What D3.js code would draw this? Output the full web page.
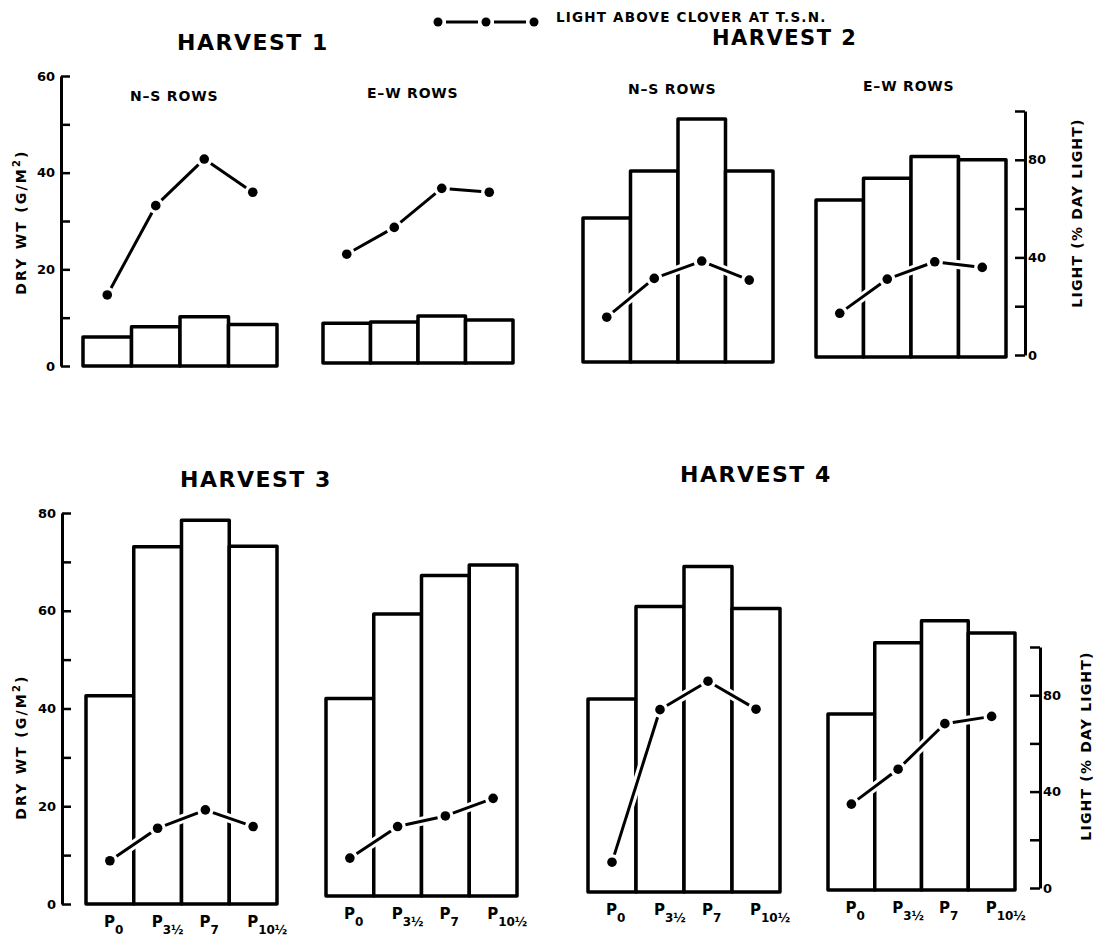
<!DOCTYPE html>
<html>
<head>
<meta charset="utf-8">
<script src="https://cdn.jsdelivr.net/npm/d3@7"></script>
<style>
  body { margin: 0; background: #fff; }
  svg { display: block; }
  text { font-family: "DejaVu Sans", sans-serif; font-weight: bold; fill: #000; }
</style>
</head>
<body>
<svg id="chart" width="1105" height="938"></svg>
<script>
// Spacing treatments (P followed by subscript)
const treatmentSubs = ["0", "3\u00BD", "7", "10\u00BD"];

// Grass dry weight (g/m2) per treatment
const dryH1NS = [6.0, 8.1, 10.2, 8.6];
const dryH1EW = [8.2, 8.5, 9.7, 8.9];
const dryH2NS = [29.8, 39.5, 50.3, 39.5];
const dryH2EW = [32.5, 37.0, 41.5, 40.8];
const dryH3NS = [42.6, 73.1, 78.5, 73.2];
const dryH3EW = [40.4, 57.7, 65.6, 67.7];
const dryH4NS = [39.5, 58.4, 66.6, 58.0];
const dryH4EW = [36.0, 50.6, 55.1, 52.6];

// Light above clover at T.S.N. (% day light)
const lightH1NS = [24.6, 61.2, 80.3, 66.7];
const lightH1EW = [41.3, 52.3, 68.3, 66.7];
const lightH2NS = [15.5, 31.4, 38.5, 30.7];
const lightH2EW = [17.1, 31.1, 38.2, 35.9];
const lightH3NS = [11.3, 24.8, 32.4, 25.5];
const lightH3EW = [12.4, 25.5, 29.9, 37.2];
const lightH4NS = [10.7, 74.0, 85.8, 74.2];
const lightH4EW = [34.8, 49.3, 68.2, 71.2];

// Axis ticks
const dryTicksTop = [0, 10, 20, 30, 40, 50, 60];
const dryLabelsTop = [0, 20, 40, 60];
const dryTicksBottom = [0, 10, 20, 30, 40, 50, 60, 70, 80];
const dryLabelsBottom = [0, 20, 40, 60, 80];
const lightTicks = [0, 20, 40, 60, 80, 100];
const lightLabels = [0, 40, 80];

const titles = ["HARVEST  1", "HARVEST  2", "HARVEST  3", "HARVEST  4"];
const rowLabels = ["N\u2013S  ROWS", "E\u2013W  ROWS"];
const legendLabel = "LIGHT ABOVE CLOVER AT  T.S.N.";

const svg = d3.select("#chart");

// Row geometry: dry-weight axis and light axis for each row of panels
const rows = [
  { dryMax: 60, dryPx: 290, dryAxisX: 61, dryZero: 366, dryTicks: dryTicksTop, dryLabels: dryLabelsTop,
    lightZero: 355, lightPx: 244, lightAxisX: 1025, dryTitleY: 222, lightTitleX: 1078, lightTitleY: 213 },
  { dryMax: 80, dryPx: 391, dryAxisX: 62, dryZero: 904, dryTicks: dryTicksBottom, dryLabels: dryLabelsBottom,
    lightZero: 888, lightPx: 241, lightAxisX: 1040, dryTitleY: 747, lightTitleX: 1087, lightTitleY: 746 }
];

const panels = [
  { dry: dryH1NS, light: lightH1NS, x0: 83,  x1: 277,  base: 366, row: 0 },
  { dry: dryH1EW, light: lightH1EW, x0: 323, x1: 513,  base: 363, row: 0 },
  { dry: dryH2NS, light: lightH2NS, x0: 583, x1: 773,  base: 362, row: 0 },
  { dry: dryH2EW, light: lightH2EW, x0: 816, x1: 1006, base: 357, row: 0 },
  { dry: dryH3NS, light: lightH3NS, x0: 86,  x1: 277,  base: 904, row: 1 },
  { dry: dryH3EW, light: lightH3EW, x0: 326, x1: 517,  base: 896, row: 1 },
  { dry: dryH4NS, light: lightH4NS, x0: 588, x1: 780,  base: 892, row: 1 },
  { dry: dryH4EW, light: lightH4EW, x0: 828, x1: 1015, base: 890, row: 1 }
];

// Light scales shared by each row
const lightScales = rows.map(r => d3.scaleLinear().domain([0, 100]).range([r.lightZero, r.lightZero - r.lightPx]));

panels.forEach(p => {
  const r = rows[p.row];
  const x = d3.scaleBand().domain(d3.range(4)).range([p.x0, p.x1]).padding(0);
  const y = d3.scaleLinear().domain([0, r.dryMax]).range([p.base, p.base - r.dryPx]);
  const yl = lightScales[p.row];
  const g = svg.append("g");

  // Bars
  g.selectAll("rect").data(p.dry).join("rect")
    .attr("x", (d, i) => x(i))
    .attr("y", d => y(d))
    .attr("width", x.bandwidth())
    .attr("height", d => y(0) - y(d))
    .attr("fill", "#fff")
    .attr("stroke", "#000")
    .attr("stroke-width", 3.5)
    .attr("stroke-linejoin", "round");

  // Light line: separate segments stopping short of the dots, with a white halo
  const pts = p.light.map((v, i) => [x(i) + x.bandwidth() / 2, yl(v)]);
  const segs = d3.pairs(pts).map(([a, b]) => {
    const dx = b[0] - a[0], dy = b[1] - a[1], len = Math.hypot(dx, dy);
    const k = 8 / len;
    return [[a[0] + dx * k, a[1] + dy * k], [b[0] - dx * k, b[1] - dy * k]];
  });
  const line = d3.line();
  g.selectAll("path.halo").data(segs).join("path").attr("class", "halo")
    .attr("d", line).attr("stroke", "#fff").attr("stroke-width", 9).attr("fill", "none");
  g.selectAll("path.seg").data(segs).join("path").attr("class", "seg")
    .attr("d", line).attr("stroke", "#000").attr("stroke-width", 3).attr("fill", "none");
  g.selectAll("circle").data(pts).join("circle")
    .attr("cx", d => d[0]).attr("cy", d => d[1]).attr("r", 4.8).attr("fill", "#000");

  // Treatment labels under the bottom row
  if (p.row === 1) {
    const t = g.selectAll("text.trt").data(treatmentSubs).join("text").attr("class", "trt")
      .attr("x", (d, i) => x(i) + x.bandwidth() / 2 - 6)
      .attr("y", p.base + 23)
      .attr("font-size", 15);
    t.append("tspan").text("P");
    t.append("tspan").attr("dy", 7).attr("font-size", 12).text(d => d);
  }
});

// Axes for each row
rows.forEach((r, ri) => {
  // Dry weight axis (left)
  const y = d3.scaleLinear().domain([0, r.dryMax]).range([r.dryZero, r.dryZero - r.dryPx]);
  const ax = svg.append("g").attr("transform", `translate(${r.dryAxisX},0)`)
    .call(d3.axisLeft(y).tickValues(r.dryTicks).tickSizeInner(-9).tickSizeOuter(0).tickPadding(6)
      .tickFormat(d => r.dryLabels.includes(d) ? d : ""));
  ax.select(".domain").attr("stroke", "#000").attr("stroke-width", 3);
  ax.selectAll(".tick line").attr("stroke", "#000").attr("stroke-width", 2.5);
  ax.selectAll(".tick text").attr("font-size", 13).attr("font-family", "DejaVu Sans").attr("font-weight", "bold").attr("fill", "#000");

  const t = svg.append("text")
    .attr("transform", `translate(26,${r.dryTitleY}) rotate(-90)`)
    .attr("text-anchor", "middle").attr("font-size", 14).attr("letter-spacing", 2.2);
  t.append("tspan").text("DRY WT  (G/M");
  t.append("tspan").attr("dy", -6).attr("font-size", 10).text("2");
  t.append("tspan").attr("dy", 6).text(")");

  // Light axis (right)
  const yl = lightScales[ri];
  const al = svg.append("g").attr("transform", `translate(${r.lightAxisX},0)`)
    .call(d3.axisRight(yl).tickValues(lightTicks).tickSizeInner(-10).tickSizeOuter(0).tickPadding(3)
      .tickFormat(d => lightLabels.includes(d) ? d : ""));
  al.select(".domain").attr("stroke", "#000").attr("stroke-width", 3);
  al.selectAll(".tick line").attr("stroke", "#000").attr("stroke-width", 2.5);
  al.selectAll(".tick text").attr("font-size", 13).attr("font-family", "DejaVu Sans").attr("font-weight", "bold").attr("fill", "#000");

  svg.append("text")
    .attr("transform", `translate(${r.lightTitleX},${r.lightTitleY}) rotate(-90)`)
    .attr("text-anchor", "middle").attr("dominant-baseline", "middle")
    .attr("font-size", 14).attr("letter-spacing", 1.2)
    .text("LIGHT  (% DAY LIGHT)");
});

// Harvest titles
const titlePos = [[177, 50, 22], [712, 45, 21], [180, 487, 22], [680, 482, 22]];
svg.selectAll("text.title").data(titles).join("text").attr("class", "title")
  .attr("x", (d, i) => titlePos[i][0]).attr("y", (d, i) => titlePos[i][1])
  .attr("font-size", (d, i) => titlePos[i][2]).attr("letter-spacing", 1.5).text(d => d);

// Row orientation labels above the top panels
const subPos = [[130, 101], [367, 98], [628, 94], [863, 91]];
svg.selectAll("text.sub").data(subPos).join("text").attr("class", "sub")
  .attr("x", d => d[0]).attr("y", d => d[1])
  .attr("font-size", 14).attr("letter-spacing", 0.8)
  .text((d, i) => rowLabels[i % 2]);

// Legend
const legendX = d3.scaleLinear().domain([0, 2]).range([438, 534]);
const lg = svg.append("g");
lg.selectAll("line").data([[0, 1], [1, 2]]).join("line")
  .attr("x1", d => legendX(d[0]) + 8).attr("x2", d => legendX(d[1]) - 8)
  .attr("y1", 22).attr("y2", 22).attr("stroke", "#000").attr("stroke-width", 3);
lg.selectAll("circle").data([0, 1, 2]).join("circle")
  .attr("cx", d => legendX(d)).attr("cy", 22).attr("r", 4.5).attr("fill", "#000");
lg.append("text").attr("x", 556).attr("y", 22).attr("font-size", 13.5).attr("letter-spacing", 1.2).text(legendLabel);
</script>
</body>
</html>
